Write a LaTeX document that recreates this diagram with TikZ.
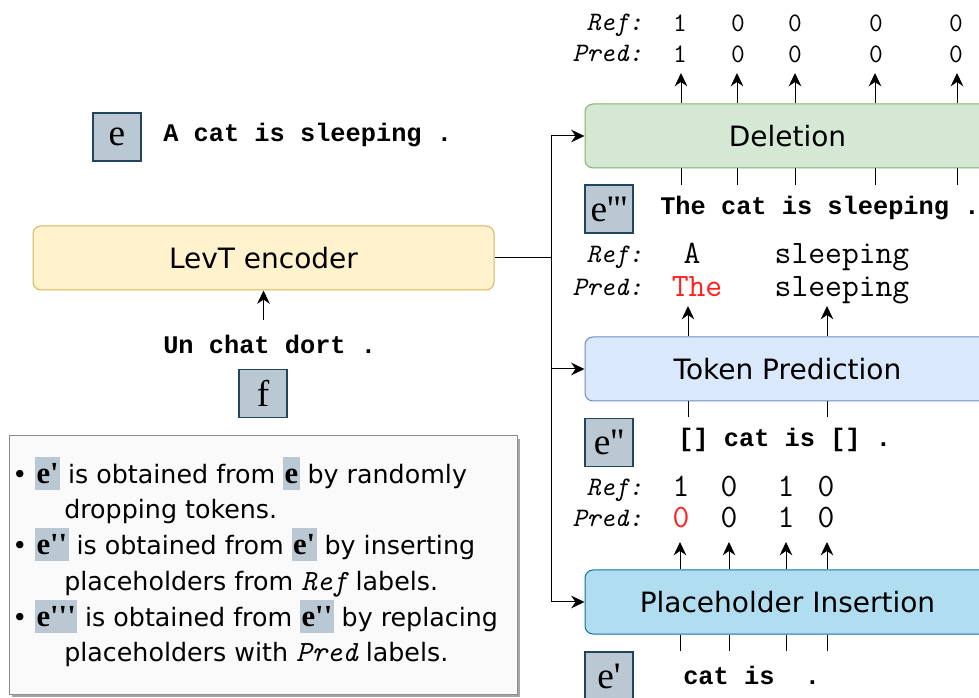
\documentclass[tikz,border=0pt]{standalone}
\usepackage{fontspec}
\setmainfont{DejaVu Sans}
\setmonofont{Liberation Mono}
\newfontfamily\serif{Liberation Serif}
\newfontfamily\thintt{Latin Modern Mono}
\usetikzlibrary{arrows.meta}
\definecolor{efill}{HTML}{BAC8D3}
\definecolor{eedge}{HTML}{23445D}
\definecolor{encfill}{HTML}{FFF2CC}
\definecolor{encedge}{HTML}{D6B656}
\definecolor{delfill}{HTML}{D5E8D4}
\definecolor{deledge}{HTML}{82B366}
\definecolor{tokfill}{HTML}{DAE8FC}
\definecolor{tokedge}{HTML}{6C8EBF}
\definecolor{insfill}{HTML}{B1DDF0}
\definecolor{insedge}{HTML}{10739E}
\definecolor{wrong}{HTML}{FF2020}
\newcommand{\ehl}[1]{{\setlength{\fboxsep}{0pt}\colorbox{efill}{\kern1pt\rule[-4.5pt]{0pt}{25pt}{\serif\bfseries\fontsize{23}{24}\selectfont #1}\kern1pt}}}
\newcommand{\pq}{\textquotesingle}

\begin{document}
\begin{tikzpicture}[x=0.75pt,y=-0.75pt]
		\tikzstyle{ebox}=[draw=eedge,fill=efill,line width=1pt,minimum width=36pt,minimum height=36pt,inner sep=0pt,font=\serif\fontsize{28}{28}\selectfont]
		\tikzstyle{stage}=[draw,line width=0.75pt,rounded corners=6pt,minimum height=48pt,font=\fontsize{21}{24}\selectfont]
		\tikzstyle{sent}=[anchor=west,inner sep=0pt,font=\ttfamily\bfseries\fontsize{19}{22}\selectfont]
		\tikzstyle{lab}=[anchor=base east,inner sep=0pt,font=\thintt\itshape\fontsize{20}{22}\selectfont]
		\tikzstyle{tok}=[anchor=base,inner sep=0pt,font=\thintt\fontsize{24.5}{26}\selectfont]
		\tikzstyle{bit}=[anchor=base,inner sep=0pt,font=\thintt\fontsize{20}{22}\selectfont]
		\tikzstyle{note}=[anchor=base west,inner sep=0pt,font=\fontsize{19}{22}\selectfont]
		\tikzstyle{flow}=[-{Stealth[length=10pt,width=9.5pt]},line width=0.75pt]
		\tikzstyle{wire}=[line width=0.75pt]
		\useasboundingbox (0,0) rectangle (979,698);
		\clip (0,0) rectangle (979,698);
		% encoder side
		\node [ebox] at (117,137) (e) {e};
		\node [sent] at (163,135) (tgt) {A cat is sleeping .};
		\node [stage,fill=encfill,draw=encedge,minimum width=345.75pt] at (263.5,258) (enc) {LevT encoder};
		\node [sent] at (163,344) (src) {Un chat dort .};
		\node [ebox] at (263,393.5) (f) {f};
		\draw [flow,shorten <=11pt] (src.north -| enc) -- (enc.south);
		% stages
		\node [stage,fill=delfill,draw=deledge,minimum width=303.75pt] at (787.5,136) (del) {Deletion};
		\node [stage,fill=tokfill,draw=tokedge,minimum width=303.75pt] at (787.5,369) (tp) {Token Prediction};
		\node [stage,fill=insfill,draw=insedge,minimum width=303.75pt] at (787.5,602) (ins) {Placeholder Insertion};
		\coordinate (split) at (551,258);
		\draw [wire] (enc.east) -- (split);
		\draw [flow] (split) |- (del.west);
		\draw [flow] (split) |- (tp.west);
		\draw [flow] (split) |- (ins.west);
		% deletion labels
		\node [lab] at (643,31) (dref) {Ref:};
		\node [lab] at (643,62) (dpred) {Pred:};
		\node [bit] at (680,32) (dr1) {1};
		\node [bit] at (738,32) (dr2) {0};
		\node [bit] at (795,32) (dr3) {0};
		\node [bit] at (876,32) (dr4) {0};
		\node [bit] at (956,32) (dr5) {0};
		\node [bit] at (680,63) (dp1) {1};
		\node [bit] at (738,63) (dp2) {0};
		\node [bit] at (795,63) (dp3) {0};
		\node [bit] at (876,63) (dp4) {0};
		\node [bit] at (956,63) (dp5) {0};
		\coordinate (da1) at (681,73);
		\coordinate (da2) at (737,73);
		\coordinate (da3) at (795,73);
		\coordinate (da4) at (875,73);
		\coordinate (da5) at (957,73);
		\draw [flow] (del.north -| da1) -- (da1);
		\draw [flow] (del.north -| da2) -- (da2);
		\draw [flow] (del.north -| da3) -- (da3);
		\draw [flow] (del.north -| da4) -- (da4);
		\draw [flow] (del.north -| da5) -- (da5);
		\draw [wire] (del.south -| da1) -- ++(0,17);
		\draw [wire] (del.south -| da2) -- ++(0,17);
		\draw [wire] (del.south -| da3) -- ++(0,17);
		\draw [wire] (del.south -| da4) -- ++(0,17);
		\draw [wire] (del.south -| da5) -- ++(0,17);
		\node [ebox] at (609,209) (e3) {e\pq\pq\pq};
		\node [sent] at (660,208) (s3) {The cat is sleeping .};
		% token prediction labels
		\node [lab] at (643,263) (tref) {Ref:};
		\node [lab] at (643,296) (tpred) {Pred:};
		\node [tok] at (692,264) (tr1) {A};
		\node [tok] at (842,264) (tr2) {sleeping};
		\node [tok,text=wrong] at (697,297) (tp1) {The};
		\node [tok] at (842,297) (tp2) {sleeping};
		\coordinate (ta1) at (688,306);
		\coordinate (ta2) at (827,306);
		\draw [flow] (tp.north -| ta1) -- (ta1);
		\draw [flow] (tp.north -| ta2) -- (ta2);
		\draw [wire] (tp.south -| ta1) -- ++(0,16);
		\draw [wire] (tp.south -| ta2) -- ++(0,16);
		\node [ebox] at (609,442.5) (e2) {e\pq\pq};
		\node [sent] at (678,440) (s2) {[] cat is [] .};
		% insertion labels
		\node [lab] at (643,496) (iref) {Ref:};
		\node [lab] at (643,527) (ipred) {Pred:};
		\node [tok] at (681,497) (ir1) {1};
		\node [tok] at (729,497) (ir2) {0};
		\node [tok] at (786,497) (ir3) {1};
		\node [tok] at (826,497) (ir4) {0};
		\node [tok,text=wrong] at (681,528) (ip1) {0};
		\node [tok] at (729,528) (ip2) {0};
		\node [tok] at (786,528) (ip3) {1};
		\node [tok] at (826,528) (ip4) {0};
		\coordinate (ia1) at (680,542);
		\coordinate (ia2) at (729,542);
		\coordinate (ia3) at (786,542);
		\coordinate (ia4) at (827,542);
		\draw [flow] (ins.north -| ia1) -- (ia1);
		\draw [flow] (ins.north -| ia2) -- (ia2);
		\draw [flow] (ins.north -| ia3) -- (ia3);
		\draw [flow] (ins.north -| ia4) -- (ia4);
		\draw [wire] (ins.south -| ia1) -- ++(0,16);
		\draw [wire] (ins.south -| ia2) -- ++(0,16);
		\draw [wire] (ins.south -| ia3) -- ++(0,16);
		\draw [wire] (ins.south -| ia4) -- ++(0,16);
		\node [ebox] at (609,676) (e1) {e\pq};
		\node [sent] at (683,675) (s1) {cat~is~~.};
		% legend
		\fill [black!35] (12,439) rectangle (520,697);
		\draw [fill=black!2,draw=black!45,line width=0.75pt] (9,436) rectangle (517,694);
		\node [note] at (12,484) (n1) {\textbullet\ \ehl{e\pq} is obtained from \ehl{e} by randomly};
		\node [note] at (64,519) (n2) {dropping tokens.};
		\node [note] at (12,555) (n3) {\textbullet\ \ehl{e\pq\pq} is obtained from \ehl{e\pq} by inserting};
		\node [note] at (64,590) (n4) {placeholders from {\thintt\itshape\fontsize{22}{22}\selectfont Ref} labels.};
		\node [note] at (12,627) (n5) {\textbullet\ \ehl{e\pq\pq\pq} is obtained from \ehl{e\pq\pq} by replacing};
		\node [note] at (64,662) (n6) {placeholders with {\thintt\itshape\fontsize{22}{22}\selectfont Pred} labels.};
	\end{tikzpicture}
\end{document}
